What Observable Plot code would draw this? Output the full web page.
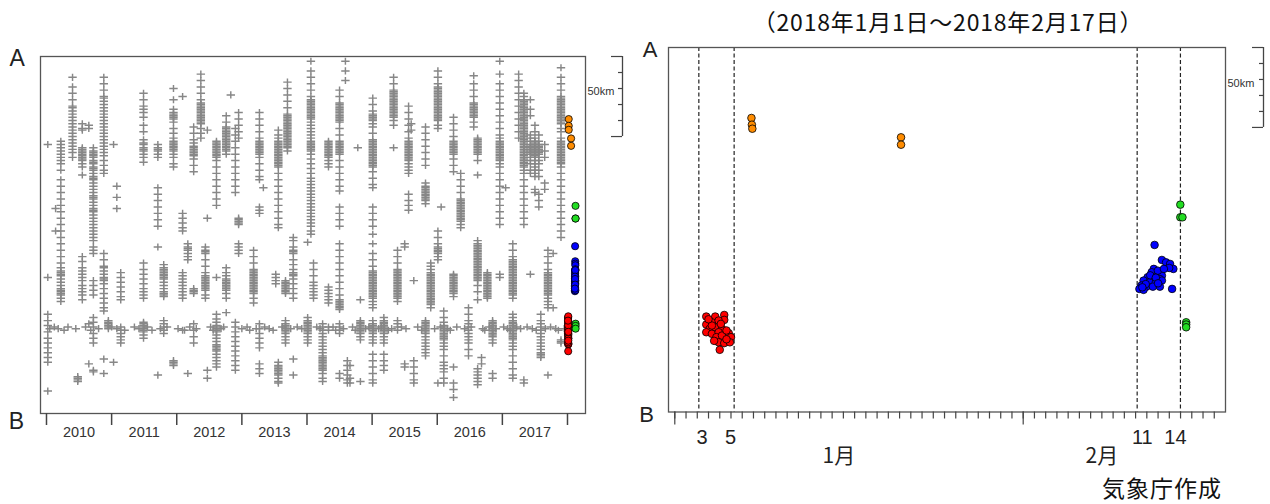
<!DOCTYPE html>
<html><head><meta charset="utf-8">
<script src="https://cdn.jsdelivr.net/npm/d3@7"></script>
<script src="https://cdn.jsdelivr.net/npm/@observablehq/plot@0.6"></script>
<style>
html,body{margin:0;padding:0;background:#fff;}
#wrap{position:relative;width:1270px;height:504px;overflow:hidden;font-family:"Liberation Sans",Arial,sans-serif;}
.panel{position:absolute;top:0;}
#title{position:absolute;left:698px;width:500px;top:7px;text-align:center;font-family:"Noto Sans CJK JP",sans-serif;font-size:23px;letter-spacing:0.8px;line-height:28px;color:#111;}
#credit{position:absolute;left:1102px;top:474px;font-family:"Noto Sans CJK JP",sans-serif;font-size:23px;line-height:26px;letter-spacing:1px;color:#111;}
</style></head>
<body><div id="wrap">
<div id="title">（2018年1月1日～2018年2月17日）</div>
<div id="credit">気象庁作成</div>
</div>
<script>
// ---- data ----
const years = [2010, 2011, 2012, 2013, 2014, 2015, 2016, 2017];
const yearTicks = [2010, 2011, 2012, 2013, 2014, 2015, 2016, 2017, 2018];
// background seismicity (decimal year, km from B)
const quakeColumns = [
 [2010.02, [168, 85, 62, 58, 55, 51, 47, 44, 41, 38, 35, 32, 14]],
 [2010.14, [128, 114]],
 [2010.22, [170, 168, 166, 164, 162, 160, 158, 156, 152, 146, 142, 138, 134, 130, 126, 122, 118, 114, 110, 106, 102, 98, 94, 91, 89, 88, 87, 86, 84, 82, 80, 78, 77, 76, 75, 74, 72, 70]],
 [2010.40, [210, 204, 200, 196, 192, 191, 189, 187, 185, 183, 181, 179, 177, 175, 173, 171, 169, 167, 165, 163, 160]],
 [2010.48, [23, 22, 21, 20]],
 [2010.55, [181, 178, 177, 166, 165, 164, 163, 162, 161, 160, 159, 158, 156, 154, 149, 98, 95, 91, 89, 87, 85, 83, 80, 78, 76, 74, 71]],
 [2010.65, [180, 178, 31, 56]],
 [2010.72, [166, 164, 163, 162, 161, 160, 158, 157, 156, 154, 153, 152, 150, 148, 147, 146, 144, 142, 140, 138, 136, 135, 134, 132, 130, 128, 127, 126, 124, 122, 120, 118, 116, 114, 112, 110, 108, 104, 102, 100, 83, 80, 77, 74, 60, 57, 54, 50, 47, 44, 27, 26]],
 [2010.88, [210, 206, 202, 198, 197, 195, 193, 191, 189, 187, 185, 183, 181, 179, 177, 175, 173, 171, 169, 167, 165, 163, 161, 158, 155, 152, 150, 100, 96, 92, 91, 89, 87, 85, 84, 83, 81, 78, 75, 72, 69, 66, 64, 34, 25]],
 [2010.95, [58, 57, 56, 55, 54, 53]],
 [2011.03, [168, 32]],
 [2011.08, [142, 135, 128]],
 [2011.14, [88, 85, 82, 79, 76, 73, 71, 54, 52, 50, 48, 46, 44]],
 [2011.49, [200, 196, 192, 190, 188, 185, 180, 176, 171, 169, 168, 166, 165, 164, 162, 160, 157, 94, 90, 87, 84, 81, 78, 76, 74, 72, 57, 56, 55, 54, 53, 52, 51, 49, 47]],
 [2011.71, [168, 166, 165, 164, 162, 160, 141, 137, 133, 129, 125, 121, 117, 104, 24]],
 [2011.80, [93, 91, 90, 89, 88, 87, 86, 85, 84, 82, 80, 78, 76, 75, 74, 73, 58, 56, 54, 52, 50]],
 [2011.95, [203, 196, 190, 188, 187, 186, 185, 184, 182, 178, 175, 172, 170, 169, 168, 167, 166, 165, 164, 162, 160, 156, 154, 33, 32, 31, 30]],
 [2012.09, [198, 125, 122, 119, 116, 114, 88, 86, 84, 82, 80, 78, 76, 74, 72, 52]],
 [2012.17, [106, 104, 103, 102, 100, 98, 96, 25]],
 [2012.26, [179, 175, 171, 169, 167, 166, 165, 164, 163, 162, 161, 159, 155, 151, 78, 77, 76, 75, 56, 52, 48, 44]],
 [2012.37, [212, 208, 204, 200, 196, 194, 193, 192, 191, 190, 189, 188, 187, 186, 185, 184, 183, 182, 181, 178, 175, 172]],
 [2012.44, [104, 102, 101, 100, 96, 92, 88, 86, 85, 84, 83, 82, 81, 80, 79, 78, 77, 74, 72]],
 [2012.47, [177, 122, 22, 27]],
 [2012.61, [170, 169, 168, 167, 166, 165, 164, 163, 162, 161, 160, 158, 154, 150, 146, 142, 138, 134, 130, 85, 62, 59, 57, 55, 54, 53, 52, 51, 49, 47, 45, 43, 42, 41, 40, 39, 37, 35, 33, 31, 29]],
 [2012.76, [186, 182, 179, 178, 177, 176, 175, 174, 173, 172, 171, 170, 169, 168, 167, 166, 165, 164, 162, 91, 88, 86, 84, 83, 82, 81, 80, 79, 78, 77, 75, 72, 63]],
 [2012.83, [199]],
 [2012.90, [178, 174, 170, 166, 162, 158, 154, 150, 146, 142, 138, 57, 54, 51, 48, 45, 42, 39, 36, 33, 30, 27]],
 [2012.95, [188, 184, 180, 176, 172, 122, 121, 120, 119, 118, 106, 104, 102, 100]],
 [2013.18, [102, 98, 94, 90, 89, 88, 87, 86, 85, 84, 83, 82, 81, 80, 79, 78, 77, 76, 75, 72, 69]],
 [2013.27, [188, 184, 180, 176, 172, 170, 169, 168, 167, 166, 165, 164, 163, 162, 160, 156, 152, 148, 146, 129, 127, 125, 56, 53, 50, 47, 44, 41, 31, 28, 25]],
 [2013.33, [141]],
 [2013.52, [87, 85, 83, 81]],
 [2013.56, [177, 174, 172, 170, 169, 168, 167, 166, 165, 164, 163, 162, 161, 160, 159, 158, 157, 156, 155, 154, 150, 146, 142, 138, 134, 130, 126, 122, 118, 116, 32, 30, 29, 28, 27, 26, 25, 24, 22, 20, 19]],
 [2013.67, [83, 82, 81, 80, 79, 78, 77, 76, 75, 58, 56, 55, 54, 53, 52, 51, 50, 48, 46, 44]],
 [2013.70, [207, 203, 199, 195, 191, 187, 186, 185, 184, 183, 182, 181, 180, 179, 178, 177, 176, 175, 174, 173, 172, 171, 170, 169, 168, 167, 166, 164]],
 [2013.79, [110, 108, 104, 102, 101, 100, 96, 93, 90, 88, 87, 86, 84, 81, 78, 75, 72, 34, 24]],
 [2014.01, [60, 58, 57, 56, 55, 54, 53, 52, 51, 50, 48, 46, 44, 107]],
 [2014.06, [220, 214, 210, 206, 202, 198, 196, 195, 194, 193, 192, 191, 190, 189, 188, 187, 186, 185, 184, 182, 180, 178, 176, 174, 172, 170, 169, 168, 167, 166, 165, 164, 162, 159, 156, 153, 150, 147, 145, 143, 141, 139, 137, 135, 133, 131, 129, 127, 125, 123, 121, 119, 117, 114, 112]],
 [2014.10, [94, 90, 86, 82, 80, 78, 76, 74, 72]],
 [2014.24, [56, 54, 52, 50, 48, 46, 44, 42, 40, 38, 36, 35, 34, 33, 32, 31, 30, 29, 28, 27, 25, 22, 20]],
 [2014.33, [170, 169, 168, 167, 166, 165, 164, 163, 162, 161, 160, 158, 156, 154, 79, 77, 75, 73, 71, 69, 54, 52]],
 [2014.50, [202, 198, 194, 193, 192, 191, 190, 189, 188, 187, 186, 185, 184, 183, 182, 178, 174, 170, 169, 168, 167, 166, 165, 164, 163, 162, 158, 154, 150, 146, 142, 139, 129, 125, 121, 117, 106, 102, 98, 94, 90, 86, 82, 78, 74, 71, 70, 69, 68, 67, 66, 65, 56, 54, 52, 50, 25, 22]],
 [2014.59, [220, 214, 208]],
 [2014.62, [33, 30, 27, 24, 21, 19]],
 [2014.66, [30, 22, 19]],
 [2014.78, [166]],
 [2014.82, [71, 58, 57, 56, 55, 54, 53, 52, 51, 50, 48, 46, 20]],
 [2015.01, [197, 193, 189, 187, 186, 185, 184, 183, 181, 179, 175, 171, 170, 169, 168, 167, 166, 165, 164, 163, 162, 161, 160, 159, 158, 157, 156, 155, 154, 151, 147, 143, 141, 129, 125, 121, 117, 112, 106, 100, 96, 92, 89, 88, 87, 86, 85, 84, 83, 82, 81, 80, 79, 78, 77, 76, 75, 74, 73, 72, 70, 68, 66, 58, 56, 55, 54, 53, 52, 51, 50, 48, 46, 44, 37, 33, 29, 25, 21, 19]],
 [2015.18, [60, 58, 57, 56, 55, 54, 53, 52, 51, 50, 48, 46, 44, 37, 33, 30, 27]],
 [2015.33, [210, 206, 202, 201, 200, 199, 198, 197, 196, 195, 194, 193, 192, 191, 190, 189, 188, 187, 186, 185, 183, 180, 166]],
 [2015.39, [102, 98, 94, 90, 89, 88, 87, 86, 85, 84, 83, 82, 81, 80, 79, 78, 77, 76, 75, 74, 73, 72, 70, 58, 56, 54, 52]],
 [2015.50, [106, 104, 31, 29]],
 [2015.56, [192, 188, 184, 180, 176, 172, 170, 169, 168, 167, 166, 165, 164, 163, 162, 161, 160, 159, 158, 156, 154, 152, 150, 137, 133, 130, 127]],
 [2015.60, [181, 177]],
 [2015.64, [83, 33, 29, 25, 21, 19]],
 [2015.82, [179, 175, 171, 167, 163, 159, 155, 144, 142, 141, 140, 139, 138, 137, 136, 135, 134, 133, 131, 58, 57, 56, 55, 54, 53, 52, 51, 50, 48, 46, 44, 42, 40, 38, 36]],
 [2015.90, [94, 92, 90, 88, 87, 86, 85, 84, 83, 82, 81, 80, 79, 78, 77, 76, 75, 74, 73, 72, 71, 70, 69, 68, 66]],
 [2016.01, [214, 210, 206, 204, 203, 202, 201, 200, 199, 198, 197, 196, 195, 194, 193, 192, 191, 190, 189, 188, 187, 186, 185, 184, 183, 180, 178, 114, 110, 106, 104, 103, 102, 101, 100, 98, 96, 19]],
 [2016.06, [129]],
 [2016.10, [64, 60, 57, 55, 54, 53, 52, 51, 50, 49, 48, 47, 46, 44, 42, 40, 36, 32, 30, 28, 26, 22, 19]],
 [2016.25, [185, 181, 177, 173, 170, 169, 168, 167, 166, 165, 164, 163, 162, 159, 155, 151, 87, 86, 85, 84, 83, 82, 81, 80, 79, 78, 77, 76, 75, 73, 29, 19, 15, 10]],
 [2016.36, [150, 146, 142, 138, 134, 133, 132, 131, 130, 129, 128, 127, 126, 125, 124, 123, 122, 121, 120, 118, 116]],
 [2016.48, [66, 62, 58, 56, 54, 52, 50, 48, 46, 44, 40, 36]],
 [2016.56, [211, 206, 202, 198, 194, 193, 192, 191, 190, 189, 188, 187, 186, 185, 182, 179]],
 [2016.62, [172, 171, 170, 169, 168, 167, 166, 165, 164, 163, 162, 158, 149, 108, 106, 105, 104, 103, 102, 101, 100, 99, 98, 97, 96, 95, 94, 93, 92, 91, 90, 89, 88, 87, 86, 85, 84, 83, 80, 76, 71, 28, 26, 24, 22, 20, 18]],
 [2016.68, [35, 31]],
 [2016.77, [88, 87, 86, 85, 84, 83, 82, 81, 80, 79, 78, 77, 76, 75, 74, 73, 72]],
 [2016.85, [58, 57, 56, 55, 54, 53, 52, 51, 50, 49, 48, 46, 44, 25, 22]],
 [2016.96, [220, 212, 206, 202, 198, 194, 190, 186, 182, 178, 174, 172, 170, 169, 168, 167, 166, 165, 164, 163, 162, 161, 160, 159, 158, 156, 154, 150, 146, 142, 138, 134, 130, 126, 122, 118, 87, 85]],
 [2017.05, [141]],
 [2017.16, [106, 102, 98, 96, 95, 94, 93, 92, 91, 90, 89, 88, 87, 86, 85, 84, 83, 82, 81, 80, 79, 78, 77, 76, 75, 74, 72, 62, 60, 58, 57, 56, 55, 54, 53, 52, 51, 50, 49, 48, 47, 46, 44, 42, 40, 36, 32, 28, 24, 22]],
 [2017.25, [212, 208, 204, 200, 196, 192, 188, 184, 180, 176, 172]],
 [2017.33, [200, 198, 196, 195, 194, 193, 192, 191, 190, 189, 188, 187, 186, 185, 184, 183, 182, 181, 180, 179, 178, 177, 176, 175, 174, 173, 172, 171, 170, 169, 168, 167, 166, 165, 164, 163, 162, 161, 160, 159, 158, 157, 156, 155, 154, 152, 150, 146, 142, 138, 134, 130, 126, 122, 118, 21, 19]],
 [2017.43, [196, 190, 186, 174, 172, 170, 168, 167, 166, 165, 164, 163, 162, 160, 158, 156, 152, 150, 87]],
 [2017.50, [180, 176, 172, 170, 169, 168, 167, 166, 165, 164, 163, 162, 161, 160, 158, 156, 154, 152, 150, 148, 140, 138]],
 [2017.56, [174, 170, 168, 167, 166, 165, 164, 163, 162, 160, 158, 156, 152, 148, 137, 133, 129]],
 [2017.59, [62, 58, 56, 54, 52, 50, 48, 46, 44, 42, 40, 38, 37, 36, 35]],
 [2017.65, [168, 164, 160, 144, 140]],
 [2017.70, [102, 98, 94, 90, 88, 87, 86, 85, 84, 83, 82, 81, 80, 79, 78, 77, 76, 75, 74, 72, 70, 68, 66, 24]],
 [2017.78, [100, 66]],
 [2017.90, [216, 210, 206, 202, 198, 197, 196, 195, 194, 193, 192, 191, 190, 189, 188, 187, 186, 185, 184, 183, 182, 181, 178, 176, 172, 170, 169, 168, 167, 166, 165, 164, 163, 162, 161, 160, 159, 158, 157, 156, 154, 150, 146, 142, 138, 134, 130, 126, 122, 118, 114, 110, 46, 45, 44]]
];
// scattered events along the ~52 km band (decimal year, km)
const quakeBand = [[2010.05,53],[2010.12,54],[2010.18,53],[2010.27,52],[2010.33,54],[2010.45,53],[2010.60,54],[2010.68,52],[2010.80,53],[2011.00,54],[2011.08,53],[2011.20,52],[2011.35,54],[2011.42,53],[2011.55,54],[2011.62,52],[2011.75,53],[2011.85,54],[2012.02,53],[2012.12,52],[2012.20,54],[2012.30,53],[2012.52,54],[2012.56,52],[2012.68,53],[2012.72,54],[2013.00,53],[2013.08,54],[2013.12,52],[2013.22,53],[2013.35,54],[2013.42,53],[2013.48,52],[2013.62,54],[2013.75,53],[2013.85,54],[2013.92,53],[2014.15,54],[2014.20,53],[2014.40,54],[2014.44,52],[2014.56,53],[2014.70,54],[2014.74,52],[2014.90,53],[2014.95,54],[2015.10,53],[2015.14,54],[2015.25,52],[2015.30,53],[2015.45,54],[2015.52,53],[2015.70,54],[2015.76,52],[2015.96,53],[2016.05,54],[2016.16,53],[2016.20,52],[2016.30,54],[2016.42,53],[2016.52,54],[2016.70,53],[2016.73,52],[2016.80,54],[2016.90,53],[2017.02,54],[2017.08,53],[2017.12,52],[2017.22,54],[2017.28,53],[2017.38,54],[2017.46,53],[2017.52,52],[2017.66,53],[2017.74,54],[2017.82,53],[2017.86,52],[2017.95,53]];

// 2018 events: [days since 2018-01-01 00:00, km from B]
const orangeEvents = [[6.82,183.9],[6.86,179.7],[6.90,177.2],[20.13,171.8],[20.13,167.2]];
const redEvents = [[2.8,59.7],[3.6,59.7],[4.4,60.7],[4.4,57.6],[2.8,54.7],[3.3,56.1],[3.9,57.2],[3.1,52.0],[3.6,53.0],[4.2,52.0],[2.8,49.9],[3.3,48.9],[3.9,49.9],[4.8,49.3],[3.7,46.8],[4.2,47.8],[5.0,46.8],[3.9,43.6],[4.4,43.1],[4.9,43.6],[4.0,38.9],[3.3,54.1],[4.1,55.1],[3.0,58.0],[4.6,51.0],[3.5,44.5],[4.6,45.5]];
const blueEvents = [[42.69,104.5],[43.34,95.1],[43.71,93.6],[44.07,92.6],[44.36,89.5],[43.99,90.1],[42.62,89.5],[42.43,87.4],[42.98,86.4],[43.34,85.3],[42.07,84.3],[42.62,83.2],[43.16,83.2],[41.71,82.2],[42.25,81.1],[42.80,81.1],[43.34,82.2],[41.52,79.1],[41.96,78.4],[42.54,78.4],[43.16,78.4],[41.34,77.0],[41.71,76.4],[44.25,77.0],[42.98,88.4],[43.52,89.5],[42.3,85.5],[41.9,80.0],[42.8,84.0],[43.0,80.5],[41.6,78.0]];
const greenEvents = [[44.98,129.7],[44.98,121.8],[45.17,121.8],[45.5,56.1],[45.5,54.7],[45.5,53.0]];

const markerDays = [2.14, 5.28, 41.14, 44.99];
const dayLabels = ["3", "5", "11", "14"];
const dayLabelAt = [2.43, 4.96, 41.6, 44.55];
const monthLabels = ["1月", "2月"];
const monthLabelAt = [14.6, 38.0];
const monthStarts = [0, 31];
const dayTicks = d3.range(0, 49);
const scaleKm = [0, 10, 20, 30, 40, 50];

// ---- build ----
const quakes = quakeColumns.flatMap(([t, kms]) => kms.map(km => ({t, km})))
  .concat(quakeBand.map(([t, km]) => ({t, km})));

const cross = {draw(ctx, size) {
  const r = Math.sqrt(size / Math.PI);
  ctx.moveTo(-r, 0); ctx.lineTo(r, 0);
  ctx.moveTo(0, -r * 0.85); ctx.lineTo(0, r * 0.85);
}};

const font = "Liberation Sans, Arial, sans-serif";
const colorSets = [[orangeEvents, "#ff8c00"], [greenEvents, "#22dd22"], [blueEvents, "#0000ff"], [redEvents, "#ff0000"]];

function scaleBar(xMax, yMax, pxPerX, offset, labelDy) {
  const bx = xMax + offset / pxPerX;
  return [
    Plot.ruleX([bx], {y1: yMax, y2: yMax - 50, stroke: "#444", strokeWidth: 1.3}),
    Plot.ruleY(scaleKm, {y: d => yMax - d, x1: d => bx - ((d === 0 || d === 50) ? 11 : 4) / pxPerX, x2: bx, stroke: "#444", strokeWidth: 1.2}),
    Plot.text(["50km"], {x: xMax, y: yMax - labelDy, text: d => d, textAnchor: "start", dx: 2, fontSize: 11, fill: "#333", fontFamily: font})
  ];
}

// left panel
const xL = [2009.908, 2018.2765], yL = [0, 223];
const pxL = 545 / (xL[1] - xL[0]);
const left = Plot.plot({
  width: 640, height: 504,
  marginLeft: 40, marginRight: 55, marginTop: 56, marginBottom: 91,
  x: {domain: xL, axis: null, label: null},
  y: {domain: yL, axis: null, label: null},
  style: {fontFamily: font, overflow: "visible", background: "transparent"},
  marks: [
    Plot.dot(quakes, {x: "t", y: "km", symbol: cross, r: 4.2, stroke: "#878787", strokeWidth: 1.45, fill: "none"}),
    ...colorSets.map(([data, c]) => Plot.dot(data, {x: d => 2018 + d[0] / 365, y: d => d[1], r: 3.6, fill: c, stroke: "#000", strokeWidth: 0.8})),
    Plot.frame({stroke: "#555", strokeWidth: 1.3}),
    Plot.axisX({ticks: yearTicks, tickSize: 12, tickFormat: () => "", label: null, stroke: "#444", strokeWidth: 1.5}),
    Plot.text(years, {x: d => d + 0.5, frameAnchor: "bottom", dy: 19, lineAnchor: "middle", text: d => String(d), fontSize: 14.5, fill: "#333"}),
    Plot.text(["A"], {frameAnchor: "top-left", textAnchor: "middle", lineAnchor: "bottom", dx: -23.3, dy: 9, fontSize: 23, text: d => d, fill: "#222"}),
    Plot.text(["B"], {frameAnchor: "bottom-left", textAnchor: "middle", lineAnchor: "bottom", dx: -24.2, dy: 15, fontSize: 23, text: d => d, fill: "#222"}),
    ...scaleBar(xL[1], yL[1], pxL, 37, 21.7)
  ]
});
left.classList.add("panel"); left.style.left = "0px";

// right panel
const xR = [-0.56, 49.0], yR = [0, 228];
const pxR = 557 / (xR[1] - xR[0]);
const right = Plot.plot({
  width: 640, height: 504,
  marginLeft: 38, marginRight: 45, marginTop: 47, marginBottom: 92.5,
  x: {domain: xR, axis: null, label: null},
  y: {domain: yR, axis: null, label: null},
  style: {fontFamily: font, overflow: "visible", background: "transparent"},
  marks: [
    Plot.ruleX(markerDays, {stroke: "#222", strokeWidth: 1.2, strokeDasharray: "4,2.5"}),
    ...colorSets.map(([data, c]) => Plot.dot(data, {x: d => d[0], y: d => d[1], r: 3.8, fill: c, stroke: "#000", strokeWidth: 0.8})),
    Plot.frame({stroke: "#555", strokeWidth: 1.3}),
    Plot.axisX({ticks: dayTicks, tickSize: 7, tickFormat: () => "", label: null, stroke: "#444", strokeWidth: 1.2}),
    Plot.axisX({ticks: monthStarts, tickSize: 13, tickFormat: () => "", label: null, stroke: "#444", strokeWidth: 1.2}),
    Plot.text(dayLabels, {x: (d, i) => dayLabelAt[i], frameAnchor: "bottom", dy: 26, lineAnchor: "middle", text: d => d, fontSize: 20, fill: "#222"}),
    Plot.text(monthLabels, {x: (d, i) => monthLabelAt[i], frameAnchor: "bottom", dy: 44, lineAnchor: "middle", text: d => d, fontSize: 21, fill: "#222", fontFamily: "Noto Sans CJK JP, sans-serif"}),
    Plot.text(["A"], {frameAnchor: "top-left", textAnchor: "middle", lineAnchor: "bottom", dx: -18.5, dy: 9.7, fontSize: 22, text: d => d, fill: "#222"}),
    Plot.text(["B"], {frameAnchor: "bottom-left", textAnchor: "middle", lineAnchor: "bottom", dx: -22, dy: 10.2, fontSize: 22, text: d => d, fill: "#222"}),
    ...scaleBar(xR[1], yR[1], pxR, 38, 22.5)
  ]
});
right.classList.add("panel"); right.style.left = "630px";

const wrap = document.getElementById("wrap");
wrap.insertBefore(right, wrap.firstChild);
wrap.insertBefore(left, wrap.firstChild);
</script>
</body></html>
